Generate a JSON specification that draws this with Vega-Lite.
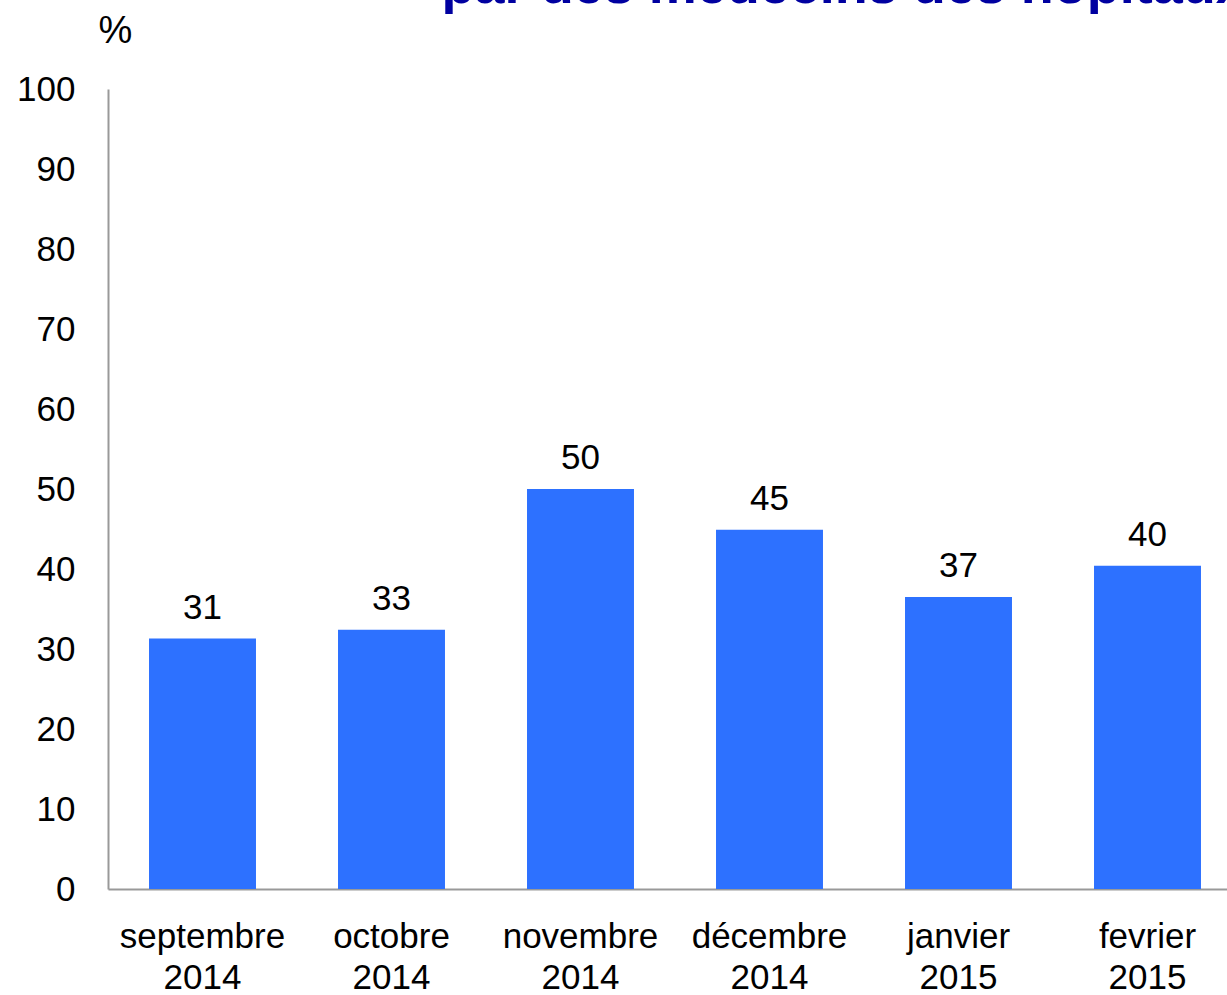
{
  "$schema": "https://vega.github.io/schema/vega-lite/v6.json",
  "autosize": {"type": "none"},
  "padding": {"left": 108, "top": 89, "right": 0, "bottom": 106},
  "width": 1119,
  "height": 800,
  "background": "white",
  "title": {
    "text": "par des médecins des hôpitaux",
    "anchor": "start",
    "dx": 425,
    "dy": 46,
    "offset": 1,
    "baseline": "alphabetic",
    "font": "Liberation Sans",
    "fontSize": 54,
    "fontWeight": "bold",
    "color": "#0000A0"
  },
  "config": {
    "view": {"stroke": null},
    "font": "Liberation Sans"
  },
  "data": {
    "values": [
      {"mois": "septembre 2014", "valeur": 31.3, "label": "31"},
      {"mois": "octobre 2014", "valeur": 32.4, "label": "33"},
      {"mois": "novembre 2014", "valeur": 50.0, "label": "50"},
      {"mois": "décembre 2014", "valeur": 44.9, "label": "45"},
      {"mois": "janvier 2015", "valeur": 36.5, "label": "37"},
      {"mois": "fevrier 2015", "valeur": 40.4, "label": "40"}
    ]
  },
  "encoding": {
    "x": {
      "field": "mois",
      "type": "nominal",
      "sort": null,
      "scale": {"range": [0, 1134], "paddingInner": 0.434, "paddingOuter": 0.217},
      "axis": {
        "title": null,
        "labelAngle": 0,
        "labelExpr": "split(datum.label, ' ')",
        "labelFontSize": 35,
        "labelColor": "#000000",
        "labelLineHeight": 41,
        "labelPadding": 30,
        "ticks": false,
        "domainColor": "#999999",
        "domainWidth": 2
      }
    },
    "y": {
      "field": "valeur",
      "type": "quantitative",
      "scale": {"domain": [0, 100]},
      "axis": {
        "title": "%",
        "titleAngle": 0,
        "titleFontSize": 38,
        "titleFontWeight": "normal",
        "titleColor": "#000000",
        "titleX": 7,
        "titleY": -58,
        "titleAlign": "center",
        "titleBaseline": "middle",
        "values": [0, 10, 20, 30, 40, 50, 60, 70, 80, 90, 100],
        "labelFontSize": 35,
        "labelColor": "#000000",
        "labelPadding": 33,
        "ticks": false,
        "grid": false,
        "domainColor": "#999999",
        "domainWidth": 2
      }
    }
  },
  "layer": [
    {"mark": {"type": "bar", "color": "#2D71FF"}},
    {
      "mark": {"type": "text", "dy": -31, "fontSize": 35, "color": "#000000"},
      "encoding": {"text": {"field": "label"}}
    }
  ]
}
